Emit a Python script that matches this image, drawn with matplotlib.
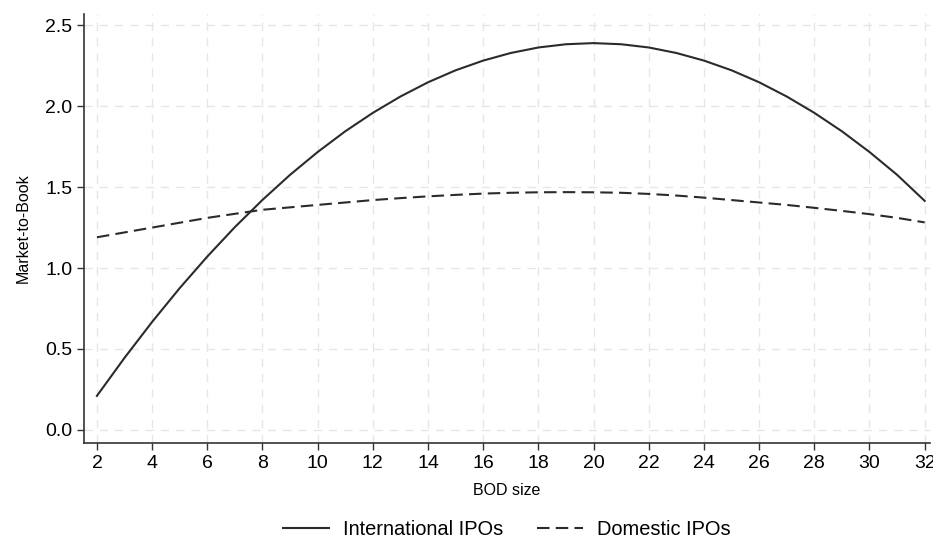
import matplotlib
matplotlib.use("Agg")
import matplotlib.pyplot as plt

bod_size = list(range(2, 33))
international = [0.21, 0.445, 0.667, 0.876, 1.071, 1.253, 1.421, 1.576, 1.717, 1.845,
                 1.959, 2.060, 2.148, 2.222, 2.282, 2.329, 2.363, 2.383, 2.39, 2.383,
                 2.363, 2.329, 2.282, 2.222, 2.148, 2.060, 1.959, 1.845, 1.717, 1.576, 1.415]
domestic = [1.19, 1.22, 1.25, 1.28, 1.31, 1.335, 1.36, 1.375, 1.39, 1.405,
            1.42, 1.432, 1.443, 1.452, 1.46, 1.465, 1.468, 1.469, 1.468, 1.465,
            1.458, 1.448, 1.435, 1.42, 1.405, 1.39, 1.372, 1.353, 1.333, 1.31, 1.282]
x_ticks = list(range(2, 33, 2))
y_ticks = [0.0, 0.5, 1.0, 1.5, 2.0, 2.5]

plt.rcParams['font.family'] = ['Liberation Sans', 'DejaVu Sans']

fig = plt.figure(figsize=(9.33, 5.38), dpi=100)
ax = fig.add_axes([0.090, 0.177, 0.907, 0.797])

ax.plot(bod_size, international, color='#2b2b2b', lw=1.5, label='International IPOs')
ax.plot(bod_size, domestic, color='#2b2b2b', lw=1.5, dashes=(6, 3), label='Domestic IPOs')

ax.set_xlim(1.53, 32.2)
ax.set_ylim(-0.08, 2.57)
ax.set_xticks(x_ticks)
ax.set_yticks(y_ticks)
ax.set_yticklabels([f"{v:.1f}" for v in y_ticks])
ax.tick_params(axis='both', labelsize=14, length=5, width=1, color='#333333', direction='out')
ax.grid(True, color='#e6e6e6', lw=1, dashes=(6, 5))
ax.set_axisbelow(True)
for s in ['top', 'right']:
    ax.spines[s].set_visible(False)
for s in ['left', 'bottom']:
    ax.spines[s].set_color('#333333')
    ax.spines[s].set_linewidth(1.2)

ax.set_xlabel('BOD size', fontsize=11.5, labelpad=8)
ax.set_ylabel('Market-to-Book', fontsize=11.5, labelpad=10)

ax.legend(loc='upper center', bbox_to_anchor=(0.5, -0.147), ncol=2, frameon=False,
          fontsize=14.4, handlelength=2.3, columnspacing=1.7, handletextpad=0.7,
          borderpad=0.2)

fig.savefig('out.png', dpi=100)
